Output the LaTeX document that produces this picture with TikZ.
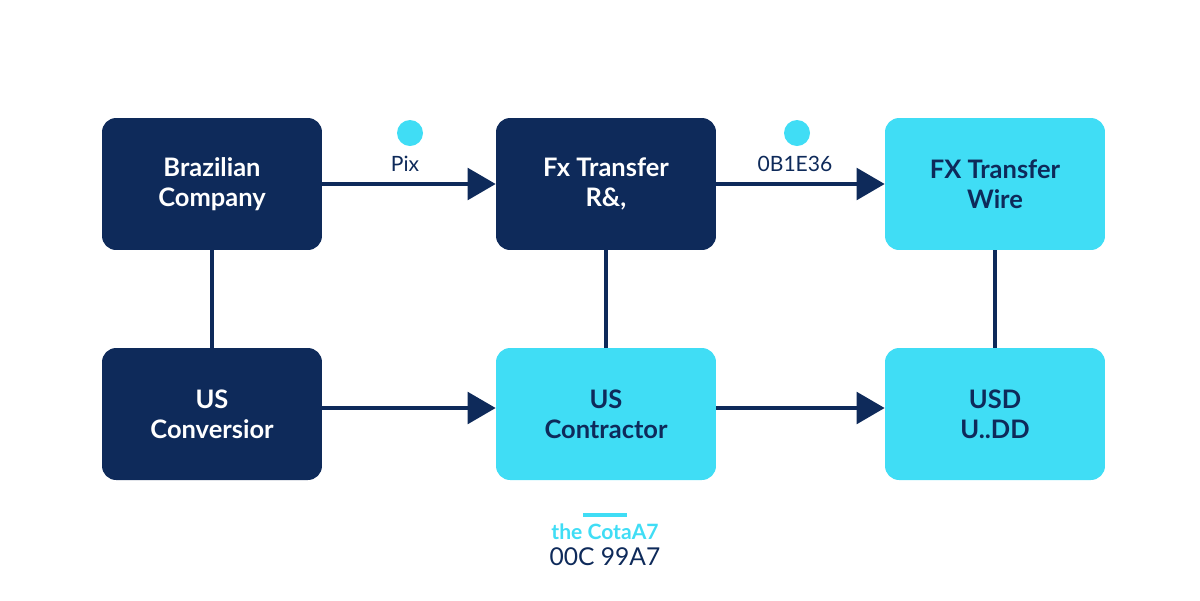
\documentclass[tikz,border=0pt]{standalone}
\usepackage{fontspec}
\setmainfont{Lato}
\usetikzlibrary{arrows.meta}
\definecolor{navy}{HTML}{0E2A5A}
\definecolor{aqua}{HTML}{40DDF5}
\begin{document}
\begin{tikzpicture}[x=0.02cm, y=-0.02cm,
    box/.style={rounded corners=8pt, minimum width=4.4cm, minimum height=2.64cm, inner sep=0pt, align=center, font=\bfseries\fontsize{14.5}{17}\selectfont},
    darkbox/.style={box, fill=navy, text=white},
    lightbox/.style={box, fill=aqua, text=navy},
    flow/.style={navy, line width=2.2pt, -{Triangle[length=16pt, width=18pt]}},
    link/.style={navy, line width=2.2pt},
    dot/.style={circle, fill=aqua, minimum size=0.52cm, inner sep=0pt},
    lbl/.style={text=navy, font=\fontsize{12}{14}\selectfont}]

    \useasboundingbox (0,0) rectangle (1200,600);

    \node[darkbox] (brazil) at (212,184) {Brazilian\\Company};
    \node[darkbox] (fxr) at (606,184) {Fx Transfer\\R\&,};
    \node[lightbox] (fxw) at (995,184) {FX Transfer\\Wire};
    \node[darkbox] (conv) at (212,414) {US\\Conversior};
    \node[lightbox] (contr) at (606,414) {US\\Contractor};
    \node[lightbox] (usd) at (995,414) {USD\\U..DD};

    \draw[flow] (brazil.east) -- (fxr.west);
    \draw[flow] (fxr.east) -- (fxw.west);
    \draw[flow] (conv.east |- 0,408) coordinate (c1) -- (contr.west |- c1);
    \draw[flow] (contr.east |- 0,408) coordinate (c2) -- (usd.west |- c2);

    \draw[link] (brazil) -- (conv);
    \draw[link] (fxr) -- (contr);
    \draw[link] (fxw) -- (usd);

    \node[dot] (d1) at (410,133) {};
    \node[dot] (d2) at (797,133) {};
    \node[lbl] (pix) at (405,164) {Pix};
    \node[lbl] (code) at (795,164) {0B1E36};

    \draw[aqua, line width=2.5pt] (583,515) -- (627,515);
    \node[text=aqua, font=\bfseries\fontsize{12}{14}\selectfont] (cota) at (605,532) {the CotaA7};
    \node[lbl, font=\fontsize{14}{16}\selectfont] (num) at (605,557) {00C 99A7};
\end{tikzpicture}
\end{document}
